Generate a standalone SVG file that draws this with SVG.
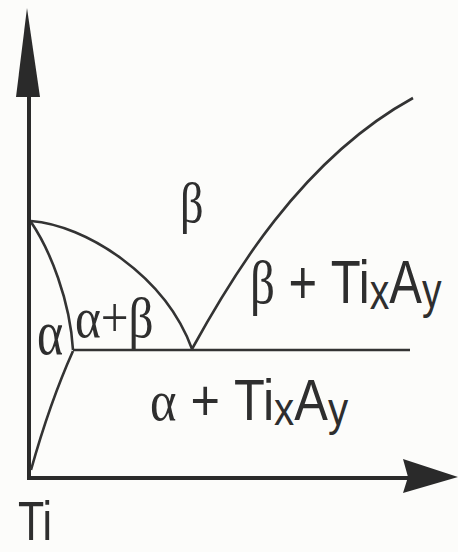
<svg xmlns="http://www.w3.org/2000/svg" width="458" height="552" viewBox="0 0 458 552">
<style>
.ax{stroke:#2a2a2a;stroke-width:4;fill:none}
.cv{stroke:#333;stroke-width:2.6;fill:none}
.ah{fill:#2a2a2a}
.lb{fill:#2e2e2e;font-family:"Liberation Sans",Arial,sans-serif}
.gr{font-family:"Liberation Serif","Times New Roman",serif}
.sb{font-size:0.8em}
</style>
<rect width="458" height="552" fill="#fcfcfa"/>
<g id="axes">
<path class="ax" d="M29,90 L29,478 L410,478"/>
<polygon class="ah" points="27,8 16,97 40,97"/>
<polygon class="ah" points="403,459 458,477 403,493 408,477"/>
</g>
<g id="connectors">
<path class="cv" d="M31,221 C85,225 165,275 192,349"/>
<path class="cv" d="M192,349 C230,280 300,160 413,98"/>
<path class="cv" d="M31,222 C50,250 70,300 73,350"/>
<path class="cv" d="M73,351 C60,380 45,420 31,470"/>
<path class="cv" d="M73,350 L410,350"/>
</g>
<g id="beta">
<text class="lb gr" font-size="58" transform="translate(180,222) scale(0.8,1)">β</text>
</g>
<g id="alpha">
<text class="lb gr" font-size="64" transform="translate(37,354) scale(0.78,1)">α</text>
</g>
<g id="alpha-beta">
<text class="lb gr" font-size="58" transform="translate(75,337) scale(0.85,1)">α+β</text>
</g>
<g id="beta-tixay">
<text class="lb" font-size="62" transform="translate(250,303) scale(0.79,1)"><tspan class="gr">β</tspan> + Ti<tspan class="sb" dy="6">x</tspan><tspan dy="-6">A</tspan><tspan class="sb" dy="5">y</tspan></text>
</g>
<g id="alpha-tixay">
<text class="lb" font-size="58" transform="translate(150,420) scale(0.87,1)"><tspan class="gr">α</tspan> + Ti<tspan class="sb" dy="5">x</tspan><tspan dy="-5">A</tspan><tspan class="sb" dy="5">y</tspan></text>
</g>
<g id="ti">
<text class="lb" font-size="55" transform="translate(18,540) scale(0.78,1)">Ti</text>
</g>
</svg>
